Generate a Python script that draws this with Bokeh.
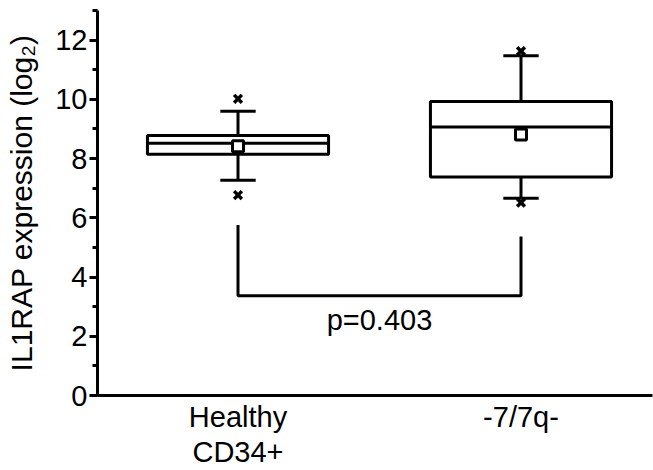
from bokeh.plotting import figure
from bokeh.models import Range1d, SingleIntervalTicker, FixedTicker, ColumnDataSource, LinearAxis
from bokeh.embed import file_html
from bokeh.resources import INLINE
from bokeh.core.properties import value

# ---- data ----
categories = ["Healthy\nCD34+", "-7/7q-"]
xpos = [1, 2]
q1 = [8.15, 7.38]
median = [8.52, 9.07]
q3 = [8.78, 9.93]
whisker_low = [7.27, 6.66]
whisker_high = [9.60, 11.47]
extreme_low = [6.77, 6.51]
extreme_high = [10.02, 11.63]
mean = [8.42, 8.81]
bracket_x = [1, 1, 2, 2]
bracket_y = [5.76, 3.37, 3.37, 5.37]
p_label = "p=0.403"

FONT = "Liberation Sans"
FS = "29px"
BOX_W = 0.64
CAP_W = 0.125

p = figure(width=653, height=470, output_backend="svg", toolbar_location=None,
           x_range=Range1d(0.5035, 2.4647), y_range=Range1d(0, 13),
           min_border_left=97, min_border_right=1, min_border_top=10, min_border_bottom=0)
p.outline_line_color = None
p.xgrid.visible = False
p.ygrid.visible = False
p.background_fill_color = "white"
p.border_fill_color = "white"

src = ColumnDataSource(dict(x=xpos, q1=q1, med=median, q3=q3, wl=whisker_low, wh=whisker_high,
                            el=extreme_low, eh=extreme_high, mean=mean,
                            left=[v - BOX_W / 2 for v in xpos], right=[v + BOX_W / 2 for v in xpos],
                            cl=[v - CAP_W / 2 for v in xpos], cr=[v + CAP_W / 2 for v in xpos]))

# whiskers
p.segment(x0="x", y0="q3", x1="x", y1="wh", source=src, line_color="black", line_width=3)
p.segment(x0="x", y0="q1", x1="x", y1="wl", source=src, line_color="black", line_width=3)
p.segment(x0="cl", y0="wh", x1="cr", y1="wh", source=src, line_color="black", line_width=3)
p.segment(x0="cl", y0="wl", x1="cr", y1="wl", source=src, line_color="black", line_width=3)
# boxes
p.quad(left="left", right="right", bottom="q1", top="q3", source=src,
       fill_color="white", line_color="black", line_width=3)
p.segment(x0="left", y0="med", x1="right", y1="med", source=src, line_color="black", line_width=3)
# mean
p.scatter(x="x", y="mean", source=src, marker="square", size=11,
          fill_color="white", line_color="black", line_width=3)
# extremes
p.scatter(x="x", y="eh", source=src, marker="x", size=11, line_color="black", line_width=3.5)
p.scatter(x="x", y="el", source=src, marker="x", size=11, line_color="black", line_width=3.5)

# significance bracket
p.line(x=bracket_x, y=bracket_y, line_color="black", line_width=3)
p.text(x=[sum(xpos) / 2], y=[2.56], text=[p_label], text_align="center", text_baseline="middle",
       text_font=value(FONT), text_font_size=FS, text_color="black")

# y axis
ya = p.yaxis[0]
ya.ticker = SingleIntervalTicker(interval=2, num_minor_ticks=2)
ya.axis_label = "IL1RAP expression (log\u2082)"
ya.axis_label_text_font = FONT
ya.axis_label_text_font_size = "30px"
ya.axis_label_text_font_style = "normal"
ya.axis_label_text_color = "black"
ya.axis_label_standoff = 14
ya.major_label_text_font = FONT
ya.major_label_text_font_size = FS
ya.major_label_standoff = 2
ya.axis_line_width = 3
ya.major_tick_line_width = 3
ya.minor_tick_line_width = 3
ya.major_tick_in = 0
ya.major_tick_out = 8
ya.minor_tick_in = 0
ya.minor_tick_out = 5
ya.axis_line_color = "black"
ya.major_tick_line_color = "black"
ya.minor_tick_line_color = "black"
ya.major_label_text_color = "black"

# x axis: first line of each category name
first_lines = [c.split("\n")[0] for c in categories]
xa = p.xaxis[0]
xa.ticker = FixedTicker(ticks=xpos)
xa.major_label_overrides = {x: t for x, t in zip(xpos, first_lines)}
xa.major_label_text_font = FONT
xa.major_label_text_font_size = FS
xa.major_label_text_color = "black"
xa.major_label_standoff = 5
xa.major_tick_in = 0
xa.major_tick_out = 0
xa.major_tick_line_color = None
xa.minor_tick_line_color = None
xa.axis_line_width = 3
xa.axis_line_color = "black"

# second line of the category names, as a label-only axis below
second = {x: c.split("\n")[1] for x, c in zip(xpos, categories) if "\n" in c}
xa2 = LinearAxis(ticker=FixedTicker(ticks=list(second.keys())), major_label_overrides=second,
                 axis_line_color=None, major_tick_line_color=None, minor_tick_line_color=None,
                 major_tick_in=0, major_tick_out=0, major_label_standoff=0,
                 major_label_text_font=FONT, major_label_text_font_size=FS,
                 major_label_text_color="black")
p.add_layout(xa2, "below")

open("out.html", "w").write(file_html(p, INLINE))
